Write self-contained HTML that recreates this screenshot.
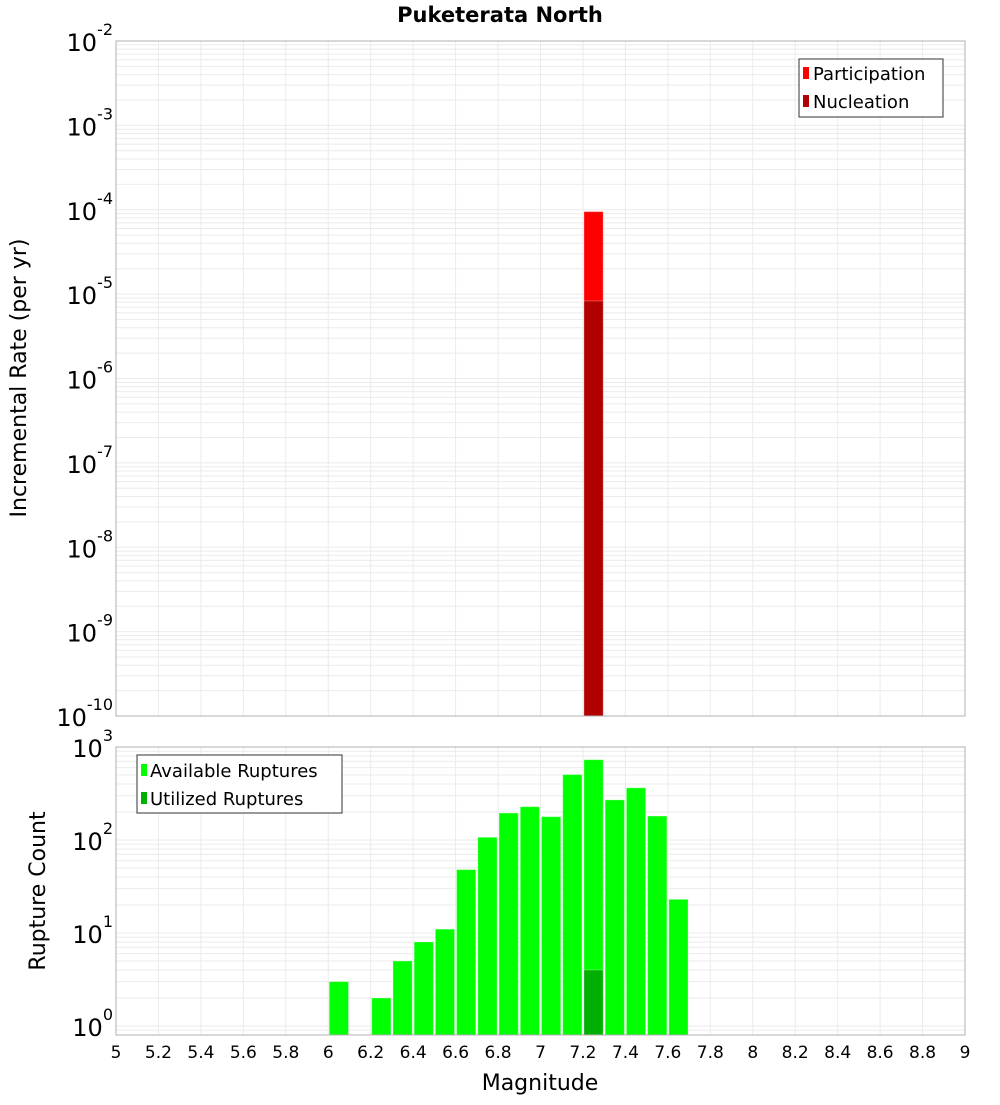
<!DOCTYPE html>
<html><head><meta charset="utf-8"><style>
body{margin:0;background:#fff;}
svg text{font-family:"DejaVu Sans","Liberation Sans",sans-serif;}
</style></head><body>
<svg id="c" width="1000" height="1100" xmlns="http://www.w3.org/2000/svg"></svg>
<script>
const partMags=[7.2];
const partRates=[9.5e-5];
const nuclMags=[7.2];
const nuclRates=[8.3e-6];
const cntMags=[6.0,6.2,6.3,6.4,6.5,6.6,6.7,6.8,6.9,7.0,7.1,7.2,7.3,7.4,7.5,7.6];
const availCounts=[3,2,5,8,11,48,107,195,228,178,505,730,270,364,181,23];
const utilMags=[7.2];
const utilCounts=[4];
const xTicks=[5,5.2,5.4,5.6,5.8,6,6.2,6.4,6.6,6.8,7,7.2,7.4,7.6,7.8,8,8.2,8.4,8.6,8.8,9];
const topExps=[-10,-9,-8,-7,-6,-5,-4,-3,-2];
const botExps=[0,1,2,3];

const NS="http://www.w3.org/2000/svg";
const svg=document.getElementById('c');
function mk(t,a,p){const e=document.createElementNS(NS,t);for(const k in a)e.setAttribute(k,a[k]);(p||svg).appendChild(e);return e;}
const L=116,R=965;
const T1=41,B1=716,T2=747,B2=1035;
const x=m=>L+(m-5)/4*(R-L);
const y1=v=>B1-(Math.log10(v)+10)/8*(B1-T1);
const bLo=Math.log10(0.8),bHi=3;
const y2=v=>B2-(Math.log10(v)-bLo)/(bHi-bLo)*(B2-T2);

function grid(top,bot,ymap,e0,e1,lo){
  const g=mk('g',{});
  
  for(let e=e0;e<=e1;e++)for(let k=1;k<10;k++){const v=k*Math.pow(10,e);if(v<lo)continue;const yy=ymap(v);if(yy<top-0.1||yy>bot+0.1)continue;
    mk('line',{x1:L,x2:R,y1:yy,y2:yy,stroke:'#ebebeb','stroke-width':1},g);}
  xTicks.forEach(t=>mk('line',{x1:x(t),x2:x(t),y1:top,y2:bot,stroke:'#ebebeb','stroke-width':1},g));
}
grid(T1,B1,y1,-10,-3,1e-10);
grid(T2,B2,y2,-1,2,0.8);

function bar(m,v,ymap,bot,fill,name){
  const r=mk('rect',{x:x(m)+1,y:ymap(v),width:x(m+0.1)-x(m)-2,height:bot-ymap(v),fill:fill,stroke:'rgba(255,255,255,0.3)','stroke-width':1});
  
  
}
partMags.forEach((m,i)=>bar(m,partRates[i],y1,B1,'#ff0000','participation-bar'));
nuclMags.forEach((m,i)=>bar(m,nuclRates[i],y1,B1,'#b00000','nucleation-bar'));
cntMags.forEach((m,i)=>bar(m,availCounts[i],y2,B2,'#00ff00','available-bar'));
utilMags.forEach((m,i)=>bar(m,utilCounts[i],y2,B2,'#00b000','utilized-bar'));

mk('rect',{x:L,y:T1,width:R-L,height:B1-T1,fill:'none',stroke:'#b0b0b0'});
mk('rect',{x:L,y:T2,width:R-L,height:B2-T2,fill:'none',stroke:'#b0b0b0'});

function expLabel(e,yy,name){
  const t=mk('text',{x:113,y:yy+10,'text-anchor':'end','font-size':24,fill:'#000'});
  
  const a=document.createElementNS(NS,'tspan');a.textContent='10';t.appendChild(a);
  const b=document.createElementNS(NS,'tspan');b.setAttribute('dy','-16');b.setAttribute('font-size','16');b.textContent=String(e);t.appendChild(b);
}
topExps.forEach(e=>expLabel(e,y1(Math.pow(10,e)),'y-tick-top'));
botExps.forEach(e=>expLabel(e,y2(Math.pow(10,e)),'y-tick-bottom'));
xTicks.forEach(t=>{const tx=mk('text',{x:x(t),y:1058,'text-anchor':'middle','font-size':17,fill:'#000'});tx.textContent=String(t);
  });
</script>
<svg style="position:absolute;left:0;top:0" width="1000" height="1100" xmlns="http://www.w3.org/2000/svg">
<text x="500" y="22" text-anchor="middle" font-size="21" font-weight="bold" font-family="DejaVu Sans,sans-serif">Puketerata North</text>
<text transform="translate(26,378) rotate(-90)" text-anchor="middle" font-size="22" font-family="DejaVu Sans,sans-serif">Incremental Rate (per yr)</text>
<text transform="translate(45,891) rotate(-90)" text-anchor="middle" font-size="22" font-family="DejaVu Sans,sans-serif">Rupture Count</text>
<text x="540" y="1090" text-anchor="middle" font-size="22" font-family="DejaVu Sans,sans-serif">Magnitude</text>
<g>
<rect x="799" y="59" width="144" height="58" fill="#fff" stroke="#333"/>
<rect x="803" y="67" width="6" height="12" fill="#ff0000"/>
<text x="813" y="80" font-size="18" font-family="DejaVu Sans,sans-serif">Participation</text>
<rect x="803" y="95" width="6" height="12" fill="#b00000"/>
<text x="813" y="108" font-size="18" font-family="DejaVu Sans,sans-serif">Nucleation</text>
</g>
<g>
<rect x="137" y="755" width="205" height="58" fill="#fff" stroke="#333"/>
<rect x="141" y="764" width="6" height="12" fill="#00ff00"/>
<text x="150" y="777" font-size="18" font-family="DejaVu Sans,sans-serif">Available Ruptures</text>
<rect x="141" y="792" width="6" height="12" fill="#00b000"/>
<text x="150" y="805" font-size="18" font-family="DejaVu Sans,sans-serif">Utilized Ruptures</text>
</g>
</svg>
</body></html>
